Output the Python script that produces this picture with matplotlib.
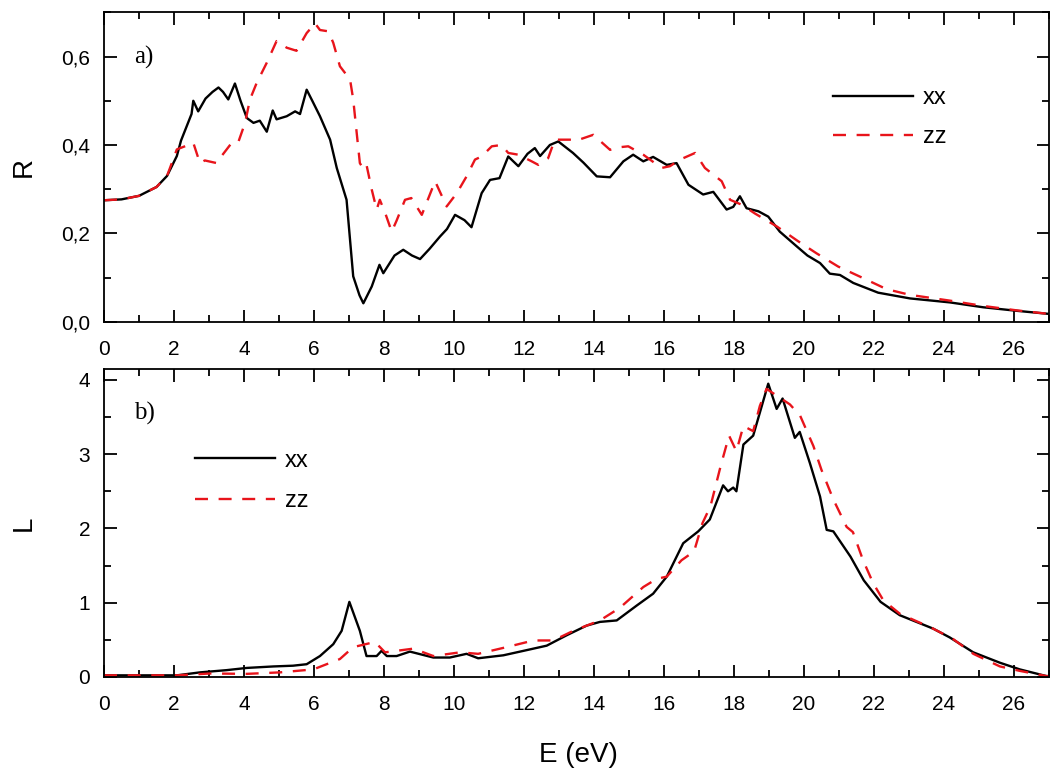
import numpy as np
import matplotlib
matplotlib.use('Agg')
import matplotlib.pyplot as plt
from matplotlib.ticker import MultipleLocator, FuncFormatter

# reflectivity R(E), xx polarisation
e_r_xx = [0, 0.5, 1.0, 1.5, 1.8, 2.08, 2.2, 2.5, 2.55, 2.69, 2.9, 3.1, 3.27, 3.4, 3.55, 3.74,
          3.9, 4.08, 4.27, 4.45, 4.65, 4.82, 4.93, 5.22, 5.46, 5.6, 5.79, 5.95, 6.17, 6.46,
          6.65, 6.93, 7.12, 7.3, 7.41, 7.65, 7.87, 7.98, 8.3, 8.55, 8.8, 9.03, 9.3, 9.6,
          9.8, 10.03, 10.3, 10.5, 10.79, 11.03, 11.3, 11.55, 11.84, 12.1, 12.31, 12.46,
          12.74, 12.98, 13.4, 13.7, 14.08, 14.46, 14.84, 15.12, 15.41, 15.69, 16.08,
          16.36, 16.7, 17.12, 17.41, 17.79, 17.98, 18.17, 18.36, 18.7, 18.98, 19.31,
          19.79, 20.1, 20.46, 20.74, 21.03, 21.41, 22.12, 23.03, 24.17, 25.12, 26.08, 27.0]
r_xx = [0.275, 0.277, 0.285, 0.305, 0.33, 0.375, 0.41, 0.47, 0.50, 0.476, 0.505, 0.52, 0.53,
        0.52, 0.503, 0.539, 0.50, 0.461, 0.45, 0.455, 0.43, 0.478, 0.458, 0.465, 0.476,
        0.47, 0.525, 0.50, 0.465, 0.412, 0.348, 0.276, 0.103, 0.06, 0.042, 0.08, 0.129,
        0.11, 0.15, 0.163, 0.15, 0.142, 0.165, 0.193, 0.21, 0.242, 0.23, 0.214, 0.291,
        0.321, 0.325, 0.374, 0.352, 0.38, 0.393, 0.375, 0.40, 0.408, 0.382, 0.36, 0.329,
        0.327, 0.363, 0.378, 0.363, 0.373, 0.355, 0.359, 0.31, 0.288, 0.294, 0.254,
        0.26, 0.284, 0.257, 0.25, 0.238, 0.204, 0.171, 0.15, 0.133, 0.109, 0.106,
        0.088, 0.066, 0.053, 0.044, 0.033, 0.025, 0.018]

# reflectivity R(E), zz polarisation
e_r_zz = [0, 0.5, 1.0, 1.5, 1.8, 2.08, 2.31, 2.55, 2.74, 2.88, 3.22, 3.31, 3.65, 3.83, 4.03,
          4.17, 4.36, 4.65, 4.93, 5.22, 5.5, 5.79, 6.03, 6.17, 6.41, 6.55, 6.74, 7.03, 7.12,
          7.22, 7.31, 7.41, 7.5, 7.65, 7.79, 7.88, 8.03, 8.22, 8.36, 8.6, 8.78, 9.08, 9.46,
          9.79, 10.08, 10.36, 10.6, 10.79, 11.08, 11.36, 11.55, 11.84, 12.22, 12.41, 12.69,
          12.88, 13.31, 13.5, 13.98, 14.46, 14.74, 14.98, 15.41, 15.93, 16.17, 16.46, 16.89,
          17.17, 17.65, 17.89, 18.22, 18.6, 19.22, 19.84, 20.36, 20.98, 21.69, 22.36, 23.03,
          24.17, 25.12, 26.08, 27.0]
r_zz = [0.275, 0.277, 0.285, 0.305, 0.33, 0.39, 0.397, 0.405, 0.359, 0.365, 0.359, 0.37,
        0.405, 0.405, 0.45, 0.503, 0.54, 0.586, 0.635, 0.62, 0.613, 0.653, 0.675, 0.66,
        0.657, 0.631, 0.578, 0.548, 0.503, 0.427, 0.359, 0.346, 0.355, 0.299, 0.254,
        0.276, 0.247, 0.204, 0.229, 0.276, 0.28, 0.242, 0.318, 0.261, 0.291, 0.329, 0.367,
        0.374, 0.397, 0.40, 0.382, 0.378, 0.363, 0.355, 0.37, 0.412, 0.412, 0.41, 0.423,
        0.389, 0.395, 0.397, 0.378, 0.348, 0.352, 0.367, 0.382, 0.348, 0.318, 0.276,
        0.265, 0.245, 0.216, 0.182, 0.155, 0.125, 0.099, 0.074, 0.061, 0.048, 0.036,
        0.026, 0.018]

# loss function L(E), xx
e_l_xx = [0, 1.0, 2.08, 2.74, 3.5, 4.08, 4.84, 5.4, 5.79, 6.17, 6.55, 6.79, 7.01, 7.31, 7.5,
          7.79, 7.93, 8.08, 8.36, 8.74, 9.41, 9.88, 10.36, 10.69, 11.41, 12.08, 12.65, 13.22,
          13.79, 14.17, 14.65, 15.22, 15.69, 16.08, 16.55, 16.98, 17.31, 17.69, 17.83, 17.98,
          18.07, 18.27, 18.55, 18.98, 19.22, 19.39, 19.74, 19.88, 20.17, 20.46, 20.65, 20.84,
          21.33, 21.71, 22.19, 22.74, 23.69, 24.17, 24.84, 25.6, 26.17, 26.93, 27.0]
l_xx = [0.02, 0.02, 0.02, 0.06, 0.09, 0.12, 0.14, 0.15, 0.17, 0.28, 0.44, 0.62, 1.01, 0.62,
        0.28, 0.28, 0.35, 0.28, 0.28, 0.34, 0.26, 0.26, 0.31, 0.25, 0.29, 0.36, 0.42, 0.56,
        0.69, 0.74, 0.76, 0.96, 1.12, 1.35, 1.80, 1.96, 2.12, 2.58, 2.50, 2.55, 2.50, 3.13,
        3.25, 3.95, 3.61, 3.75, 3.22, 3.30, 2.88, 2.43, 1.98, 1.96, 1.62, 1.30, 1.01, 0.83,
        0.65, 0.53, 0.33, 0.19, 0.10, 0.01, 0.01]

# loss function L(E), zz
e_l_zz = [0, 1.0, 2.08, 3.03, 4.08, 5.03, 5.98, 6.74, 7.12, 7.74, 8.03, 8.84, 9.41, 10.17,
          10.69, 11.5, 12.27, 12.84, 13.41, 14.17, 14.74, 15.41, 15.79, 16.08, 16.5, 16.86,
          17.1, 17.33, 17.62, 17.86, 18.07, 18.27, 18.55, 18.74, 18.93, 19.22, 19.6, 19.89,
          20.27, 20.5, 20.84, 21.22, 21.4, 21.69, 21.98, 22.27, 22.74, 23.69, 24.26, 24.84,
          25.6, 26.17, 26.93, 27.0]
l_zz = [0.02, 0.02, 0.02, 0.045, 0.04, 0.06, 0.10, 0.24, 0.40, 0.47, 0.33, 0.38, 0.28, 0.33,
        0.31, 0.40, 0.49, 0.49, 0.62, 0.76, 0.93, 1.21, 1.32, 1.35, 1.57, 1.69, 2.07, 2.30,
        2.84, 3.25, 3.04, 3.38, 3.31, 3.65, 3.88, 3.79, 3.67, 3.52, 3.11, 2.79, 2.39, 2.02,
        1.95, 1.57, 1.26, 1.03, 0.85, 0.65, 0.51, 0.31, 0.14, 0.08, 0.01, 0.01]

plt.rcParams['font.family'] = ['Liberation Sans', 'DejaVu Sans']

fig = plt.figure(figsize=(10.51, 7.70), dpi=100)
ax1 = fig.add_axes([0.099, 0.582, 0.899, 0.402])
ax2 = fig.add_axes([0.099, 0.121, 0.899, 0.400])

dash = (0, (5.5, 4.5))
for ax in (ax1, ax2):
    ax.set_xlim(0, 27)
    ax.xaxis.set_major_locator(MultipleLocator(2))
    ax.xaxis.set_minor_locator(MultipleLocator(1))
    ax.tick_params(which='both', direction='in', top=True, right=True, width=1.3,
                   labelsize=15)
    ax.tick_params(which='major', length=9)
    ax.tick_params(which='minor', length=5)
    ax.tick_params(axis='x', which='both', pad=13)
    ax.tick_params(axis='y', which='both', pad=10)
    for s in ax.spines.values():
        s.set_linewidth(1.3)

ax1.plot(e_r_xx, r_xx, color='black', lw=1.7, label='xx')
ax1.plot(e_r_zz, r_zz, color='#e8141b', lw=1.7, ls=dash, label='zz')
ax1.set_ylim(0, 0.70)
ax1.yaxis.set_major_locator(MultipleLocator(0.2))
ax1.yaxis.set_minor_locator(MultipleLocator(0.1))
ax1.yaxis.set_major_formatter(FuncFormatter(lambda v, p: f'{v:.1f}'.replace('.', ',')))
ax1.set_ylabel('R', fontsize=20)
ax1.yaxis.set_label_coords(-0.071, 0.5)
ax1.text(0.032, 0.835, 'a)', transform=ax1.transAxes, fontsize=18,
         family='Liberation Serif')
ax1.legend(loc='upper left', bbox_to_anchor=(0.771, 0.758), frameon=False, fontsize=17,
           handlelength=3.4, handletextpad=0.42, labelspacing=0.72, borderpad=0,
           borderaxespad=0)

ax2.plot(e_l_xx, l_xx, color='black', lw=1.7, label='xx')
ax2.plot(e_l_zz, l_zz, color='#e8141b', lw=1.7, ls=dash, label='zz')
ax2.set_ylim(0, 4.15)
ax2.yaxis.set_major_locator(MultipleLocator(1))
ax2.yaxis.set_minor_locator(MultipleLocator(0.5))
ax2.set_ylabel('L', fontsize=20)
ax2.yaxis.set_label_coords(-0.071, 0.5)
ax2.set_xlabel('E (eV)', fontsize=20)
ax2.xaxis.set_label_coords(0.502, -0.212)
ax2.text(0.032, 0.835, 'b)', transform=ax2.transAxes, fontsize=18,
         family='Liberation Serif')
ax2.legend(loc='upper left', bbox_to_anchor=(0.096, 0.738), frameon=False, fontsize=17,
           handlelength=3.4, handletextpad=0.42, labelspacing=0.78, borderpad=0,
           borderaxespad=0)

fig.savefig('out.png', dpi=100)
